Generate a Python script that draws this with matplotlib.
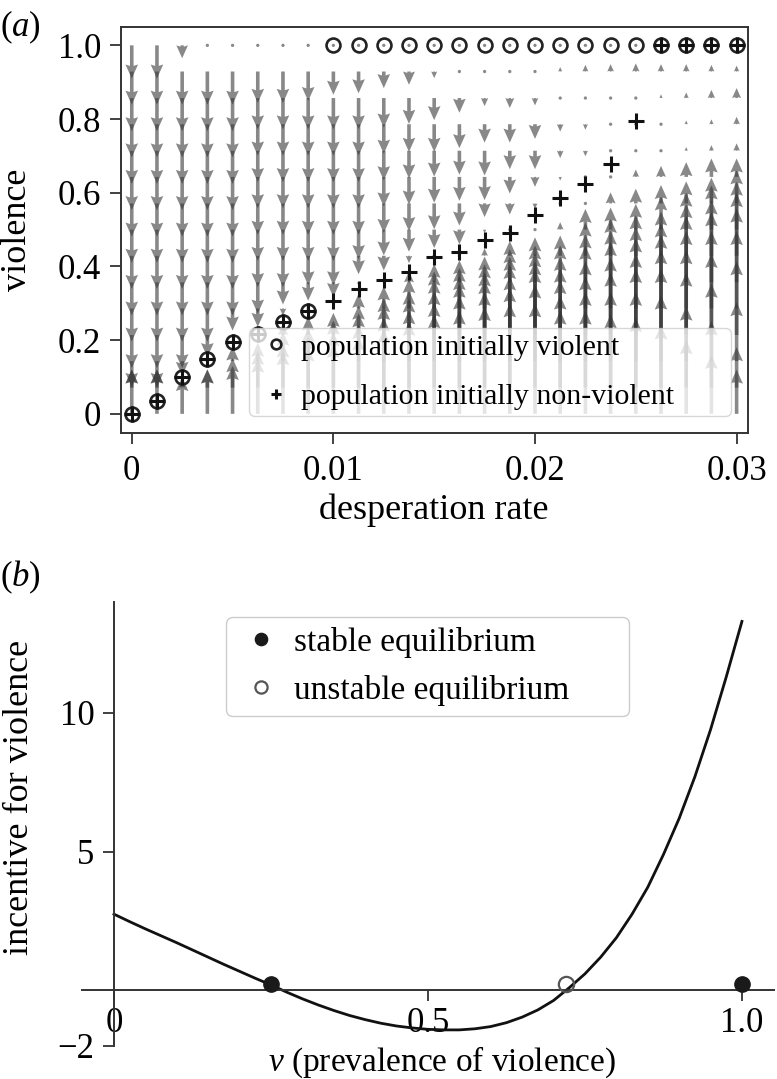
import numpy as np
import matplotlib
matplotlib.use('Agg')
import matplotlib.pyplot as plt

plt.rcParams['font.family'] = ['Liberation Serif', 'DejaVu Serif']
plt.rcParams['mathtext.fontset'] = 'custom'
plt.rcParams['mathtext.rm'] = 'Liberation Serif'
plt.rcParams['mathtext.it'] = 'Liberation Serif:italic'

# ---------------- panel (a) data ----------------
desperation = [0.0, 0.00125, 0.0025, 0.00375, 0.005, 0.00625, 0.0075, 0.00875,
               0.01, 0.01125, 0.0125, 0.01375, 0.015, 0.01625, 0.0175, 0.01875,
               0.02, 0.02125, 0.0225, 0.02375, 0.025, 0.02625, 0.0275, 0.02875, 0.03]
violence_grid = [0.0, 0.071, 0.143, 0.214, 0.286, 0.357, 0.429, 0.5,
                 0.571, 0.643, 0.714, 0.786, 0.857, 0.929, 1.0]

# change in violence per grid point (one list per desperation column, bottom -> top)
arrow_dv = [
    [0.12, 0.05, -0.07, -0.09, -0.09, -0.09, -0.09, -0.09, -0.09, -0.09, -0.09, -0.09, -0.09, -0.09, -0.09],
    [0.12, 0.05, -0.07, -0.09, -0.09, -0.09, -0.09, -0.09, -0.09, -0.09, -0.09, -0.09, -0.09, -0.09, -0.09],
    [0.10, 0.02, -0.04, -0.09, -0.09, -0.09, -0.09, -0.09, -0.09, -0.09, -0.09, -0.09, -0.09, -0.09, -0.035],
    [0.12, 0.05, 0.0, -0.06, -0.09, -0.09, -0.09, -0.09, -0.09, -0.09, -0.09, -0.09, -0.09, -0.09, 0.0],
    [0.13, 0.08, 0.04, -0.01, -0.06, -0.09, -0.09, -0.09, -0.09, -0.09, -0.09, -0.09, -0.09, -0.09, 0.0],
    [0.15, 0.10, 0.05, 0.0, -0.05, -0.085, -0.085, -0.085, -0.085, -0.085, -0.085, -0.085, -0.085, -0.085, 0.0],
    [0.17, 0.12, 0.08, 0.03, -0.02, -0.06, -0.085, -0.085, -0.085, -0.085, -0.085, -0.085, -0.085, -0.085, 0.0],
    [0.18, 0.14, 0.09, 0.05, -0.005, -0.05, -0.08, -0.085, -0.085, -0.085, -0.085, -0.085, -0.085, -0.08, 0.0],
    [0.19, 0.15, 0.11, 0.06, 0.01, -0.04, -0.08, -0.085, -0.085, -0.085, -0.085, -0.085, -0.085, -0.063, 0.0],
    [0.21, 0.17, 0.13, 0.08, 0.04, -0.01, -0.05, -0.08, -0.085, -0.085, -0.085, -0.085, -0.085, -0.059, 0.0],
    [0.23, 0.19, 0.15, 0.10, 0.06, 0.01, -0.04, -0.07, -0.08, -0.08, -0.08, -0.08, -0.08, -0.045, 0.0],
    [0.25, 0.21, 0.17, 0.12, 0.08, 0.03, -0.02, -0.06, -0.075, -0.075, -0.075, -0.075, -0.07, -0.036, 0.0],
    [0.27, 0.23, 0.19, 0.15, 0.10, 0.05, 0.0, -0.05, -0.07, -0.07, -0.07, -0.075, -0.06, -0.018, 0.0],
    [0.28, 0.25, 0.21, 0.16, 0.11, 0.06, 0.005, -0.04, -0.06, -0.065, -0.065, -0.065, -0.04, -0.005, 0.0],
    [0.29, 0.26, 0.22, 0.17, 0.12, 0.07, 0.02, -0.01, -0.037, -0.063, -0.067, -0.05, -0.022, -0.002, 0.0],
    [0.30, 0.27, 0.23, 0.19, 0.14, 0.09, 0.04, -0.005, -0.03, -0.045, -0.05, -0.05, -0.027, 0.004, 0.0],
    [0.30, 0.28, 0.25, 0.20, 0.15, 0.10, 0.05, 0.005, -0.015, -0.027, -0.05, -0.04, -0.02, 0.008, 0.0],
    [0.28, 0.25, 0.22, 0.18, 0.14, 0.10, 0.055, 0.02, 0.0, -0.01, -0.02, -0.02, -0.003, 0.012, 0.0],
    [0.28, 0.26, 0.23, 0.20, 0.17, 0.13, 0.09, 0.056, 0.003, 0.0, -0.015, -0.015, 0.0, 0.018, 0.0],
    [0.27, 0.26, 0.24, 0.21, 0.18, 0.14, 0.10, 0.06, 0.03, 0.0, 0.0, 0.0, 0.0, 0.02, 0.0],
    [0.26, 0.26, 0.25, 0.22, 0.19, 0.15, 0.11, 0.07, 0.04, 0.02, 0.003, 0.0, 0.0, 0.022, 0.0],
    [0.24, 0.25, 0.25, 0.23, 0.20, 0.16, 0.12, 0.09, 0.05, 0.03, 0.005, 0.005, 0.01, 0.02, 0.0],
    [0.20, 0.22, 0.24, 0.23, 0.21, 0.18, 0.14, 0.10, 0.06, 0.04, 0.01, 0.01, 0.015, 0.02, 0.0],
    [0.16, 0.18, 0.21, 0.22, 0.21, 0.19, 0.15, 0.12, 0.07, 0.05, 0.015, 0.013, 0.022, 0.018, 0.0],
    [0.12, 0.11, 0.16, 0.20, 0.21, 0.20, 0.17, 0.13, 0.09, 0.05, 0.02, 0.02, 0.027, 0.016, 0.0],
]

violent_eq = [0.0, 0.035, 0.10, 0.149, 0.196, 0.217, 0.25, 0.28,
              1.0, 1.0, 1.0, 1.0, 1.0, 1.0, 1.0, 1.0, 1.0, 1.0, 1.0, 1.0, 1.0, 1.0, 1.0, 1.0, 1.0]
nonviolent_eq = [0.0, 0.035, 0.10, 0.149, 0.196, 0.217, 0.25, 0.28,
                 0.306, 0.34, 0.363, 0.386, 0.425, 0.438, 0.472, 0.492, 0.539,
                 0.587, 0.625, 0.677, 0.795, 1.0, 1.0, 1.0, 1.0]

xticks_a = [0, 0.01, 0.02, 0.03]
xticklabels_a = ['0', '0.01', '0.02', '0.03']
yticks_a = [0, 0.2, 0.4, 0.6, 0.8, 1.0]
yticklabels_a = ['0', '0.2', '0.4', '0.6', '0.8', '1.0']

# ---------------- panel (b) data ----------------
v_vals = [0.0, 0.025, 0.05, 0.075, 0.1, 0.125, 0.15, 0.175, 0.2, 0.225, 0.25,
          0.275, 0.3, 0.325, 0.35, 0.375, 0.4, 0.425, 0.45, 0.475, 0.5, 0.525,
          0.55, 0.575, 0.6, 0.625, 0.65, 0.675, 0.7, 0.725, 0.75, 0.775, 0.8,
          0.825, 0.85, 0.875, 0.9, 0.925, 0.95, 0.975, 1.0]
incentive = [2.75, 2.48, 2.22, 1.97, 1.72, 1.46, 1.2, 0.94, 0.69, 0.44, 0.2,
             -0.06, -0.3, -0.52, -0.72, -0.9, -1.05, -1.18, -1.28, -1.35, -1.4, -1.42,
             -1.42, -1.38, -1.3, -1.16, -0.96, -0.7, -0.36, 0.1, 0.6, 1.2, 1.9,
             2.75, 3.72, 4.9, 6.2, 7.7, 9.4, 11.3, 13.3]
stable_v = [0.25, 1.0]
stable_y = [0.25, 0.25]
unstable_v = [0.72]
unstable_y = [0.25]

xticks_b = [0, 0.5, 1.0]
xticklabels_b = ['0', '0.5', '1.0']
yticks_b = [-2, 5, 10]
yticklabels_b = ['\u22122', '5', '10']

spine_col = '#333333'

fig = plt.figure(figsize=(7.77, 10.79), dpi=100)

# ================= panel (a) =================
ax = fig.add_axes([0.1553, 0.5987, 0.807, 0.376])
X, Y = np.meshgrid(desperation, violence_grid)
V = np.array(arrow_dv).T
U = np.zeros_like(V)
ax.quiver(X, Y, U, V, angles='xy', scale_units='xy', scale=1, units='dots',
          width=3.6, headwidth=3.5, headlength=3.9, headaxislength=3.5,
          color='#333333', alpha=0.58, zorder=1, pivot='tail')
ax.plot(desperation, violent_eq, 'o', mfc='none', mec='#222222', ms=10, mew=1.9,
        label='population initially violent', zorder=3)
ax.plot(desperation, nonviolent_eq, '+', color='#111111', ms=11, mew=2.2,
        label='population initially non-violent', zorder=4)
ax.set_xlim(-0.00055, 0.03055)
ax.set_ylim(-0.052, 1.049)
ax.set_xticks(xticks_a)
ax.set_xticklabels(xticklabels_a)
ax.set_yticks(yticks_a)
ax.set_yticklabels(yticklabels_a)
ax.tick_params(direction='out', length=8, width=1.3, color=spine_col,
               labelsize=25, pad=6)
ax.tick_params(axis='x', pad=8)
for s in ax.spines.values():
    s.set_color(spine_col)
    s.set_linewidth(1.4)
ax.set_xlabel('desperation rate', fontsize=26)
ax.xaxis.set_label_coords(0.5, -0.148)
ax.set_ylabel('violence', fontsize=26)
ax.yaxis.set_label_coords(-0.138, 0.5)
ax.legend(loc='upper left', bbox_to_anchor=(0.2046, 0.037, 0.7688, 0.222),
          mode='expand', fontsize=21.5, frameon=True, framealpha=0.78,
          edgecolor='#cccccc', fancybox=True, handletextpad=0.15, borderpad=0.2,
          labelspacing=0.75, handlelength=1.4, markerscale=0.7, borderaxespad=0)
fig.text(0.0, 0.992, '($a$)', fontsize=25, ha='left', va='top')

# ================= panel (b) =================
ax2 = fig.add_axes([0.1055, 0.0306, 0.8906, 0.4115])
ax2.plot(v_vals, incentive, color='#111111', lw=2, zorder=2)
ax2.plot(stable_v, stable_y, 'o', color='#1a1a1a', ms=11, label='stable equilibrium',
         zorder=5, clip_on=False)
ax2.plot(unstable_v, unstable_y, 'o', mfc='none', mec='#555555', ms=11, mew=1.6,
         label='unstable equilibrium', zorder=5)
ax2.set_xlim(-0.051, 1.051)
ax2.set_ylim(-2, 14)
ax2.spines['left'].set_position(('data', 0))
ax2.spines['bottom'].set_position(('data', 0))
ax2.spines['top'].set_visible(False)
ax2.spines['right'].set_visible(False)
for s in ['left', 'bottom']:
    ax2.spines[s].set_color(spine_col)
    ax2.spines[s].set_linewidth(1.4)
ax2.set_xticks(xticks_b)
ax2.set_xticklabels(xticklabels_b)
ax2.set_yticks(yticks_b)
ax2.set_yticklabels(yticklabels_b)
ax2.tick_params(direction='out', length=8, width=1.3, color=spine_col,
                labelsize=25, pad=6)
ax2.tick_params(axis='x', pad=4)
ax2.set_xlabel('$v$ (prevalence of violence)', fontsize=24)
ax2.xaxis.set_label_coords(0.52, 0.004)
ax2.set_ylabel('incentive for violence', fontsize=26)
ax2.yaxis.set_label_coords(-0.066, 0.559)
ax2.legend(loc='upper left', bbox_to_anchor=(0.208, 0.741, 0.582, 0.225),
           mode='expand', fontsize=24, frameon=True, framealpha=1.0,
           edgecolor='#cccccc', fancybox=True, handletextpad=0.25, borderpad=0.3,
           labelspacing=0.5, handlelength=1.5, markerscale=0.8, borderaxespad=0)
fig.text(0.0, 0.482, '($b$)', fontsize=25, ha='left', va='top')

fig.savefig('out.png', dpi=100)
